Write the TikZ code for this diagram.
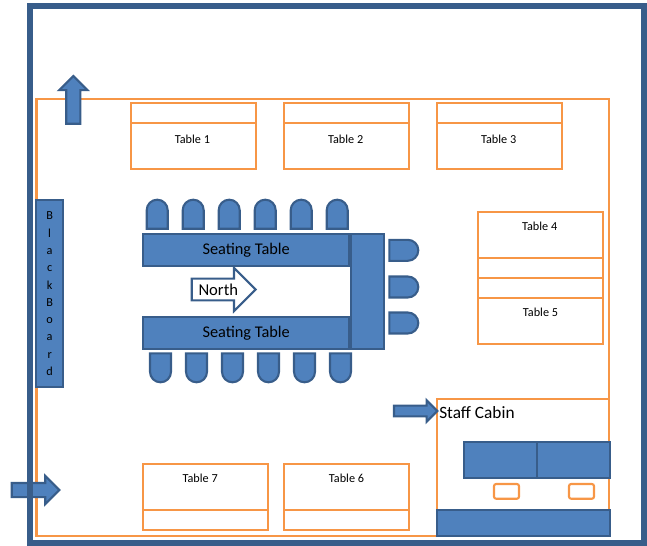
\documentclass[tikz,border=0pt]{standalone}
\usepackage{fontspec}
\setmainfont{Carlito}
\usepackage{xcolor}
\usepackage{tikz}
\usetikzlibrary{shapes,shapes.arrows,positioning}

\definecolor{officeblue}{HTML}{4F81BD}
\definecolor{officeline}{HTML}{385D8A}
\definecolor{officeorange}{HTML}{F79646}

\tikzset{
  bluebox/.style={draw=officeline, fill=officeblue, line width=1.5pt, outer sep=0pt, inner sep=0pt},
  orangebox/.style={draw=officeorange, line width=1.5pt, outer sep=0pt, inner sep=0pt},
  tablecell/.style={orangebox, minimum width=3.125cm},
  tablename/.style={inner sep=0pt, font=\fontsize{8.7}{10}\selectfont},
  seatname/.style={font=\fontsize{11.6}{13}\selectfont},
  doorarrow/.style={single arrow, draw=officeline, fill=officeblue, line width=1.5pt, inner xsep=0pt, outer sep=0pt, single arrow head indent=0pt, anchor=tail},
  chair/.pic={\draw[draw=officeline, fill=officeblue, line width=1.5pt] (-.2625,0) -- (-.2625,.4625) arc[start angle=180, end angle=0, radius=.2625] -- (.2625,0) -- cycle;}
}

\begin{document}
\begin{tikzpicture}
\coordinate(O1) at (0,0);
\useasboundingbox (0,0) rectangle (16.175,-13.625);

\node[below right=2.4675cm and 0.9125cm of O1, orangebox, minimum width=14.3125cm, minimum height=10.9325cm](room) {};
\node[below right=9.975cm and 10.9325cm of O1, orangebox, minimum width=4.2925cm, minimum height=3.425cm](cabin) {};

% top row
\foreach \name/\xa/\lab in {t1/3.2675/Table 1, t2/7.1/Table 2, t3/10.925/Table 3}{
  \node[below right=2.5825cm and \xa cm of O1, tablecell, minimum height=0.5cm](\name a) {};
  \node[below=0cm of \name a, tablecell, minimum height=1.15cm](\name b) {};
  \node[below=0.295cm of \name b.north, tablename, xshift=-0.02cm](\name c) {\lab};
}

% tables 4 and 5
\node[below right=5.3cm and 11.95cm of O1, tablecell, minimum height=1.15cm](t4a) {};
\node[below=0cm of t4a, tablecell, minimum height=0.5cm](t4b) {};
\node[below=0cm of t4b, tablecell, minimum height=0.5cm](t5a) {};
\node[below=0cm of t5a, tablecell, minimum height=1.15cm](t5b) {};
\node[below=0.245cm of t4a.north, tablename, xshift=-0.02cm](t4c) {Table 4};
\node[below=0.245cm of t5b.north, tablename](t5c) {Table 5};

% bottom row
\foreach \name/\xa/\xb/\lab in {t7/3.5675/-0.125/Table 7, t6/7.1/0/Table 6}{
  \node[below right=11.6075cm and \xa cm of O1, tablecell, minimum height=1.15cm](\name a) {};
  \node[below=0cm of \name a, tablecell, minimum height=0.5cm](\name b) {};
  \node[below=0.245cm of \name a.north, tablename, xshift=\xb cm](\name c) {\lab};
}

\node[below right=5.0075cm and 0.9cm of O1, bluebox, minimum width=0.6825cm, minimum height=4.675cm, align=center, font=\fontsize{8.7}{12.3}\selectfont](board) {B\\l\\a\\c\\k\\B\\o\\a\\r\\d};

% seating
\node[below right=5.85cm and 3.5825cm of O1, bluebox, minimum width=5.1425cm, minimum height=0.8cm, seatname](seat1) {Seating Table};
\node[below right=7.925cm and 3.5825cm of O1, bluebox, minimum width=5.1425cm, minimum height=0.8cm, seatname](seat2) {Seating Table};
\node[below right=5.85cm and 8.7825cm of O1, bluebox, minimum width=0.8175cm, minimum height=2.8675cm](seat3) {};

\foreach \i in {0,...,5}{
  \pic at ({3.93+0.9*\i},-5.7175) {chair};
  \pic[rotate=180] at ({4.0125+0.9*\i},-8.8325) {chair};
}
\foreach \ya in {6.2575,7.175,8.075}{
  \pic[rotate=-90] at (9.7325,-\ya) {chair};
}

% arrows
\node[below right=7.2375cm and 4.7925cm of O1, doorarrow, fill=white, inner ysep=0.1cm, minimum height=1.6cm, minimum width=1.0325cm, single arrow head extend=0.27cm, font=\fontsize{11.8}{13}\selectfont](north) {North};
\node[below right=3.0925cm and 1.8325cm of O1, doorarrow, rotate=90, inner ysep=0.15cm, minimum height=1.1925cm, minimum width=0.65cm, single arrow head extend=0.175cm](exitup) {};
\node[below right=12.25cm and 0.2925cm of O1, doorarrow, inner ysep=0.15cm, minimum height=1.19cm, minimum width=0.65cm, single arrow head extend=0.175cm](entry) {};
\node[below right=10.275cm and 9.85cm of O1, doorarrow, inner ysep=0.109cm, minimum height=1.0825cm, minimum width=0.4825cm, single arrow head extend=0.1325cm](staffarrow) {};

% staff cabin
\node[below right=10.3175cm and 10.975cm of O1, anchor=west, inner sep=0pt, font=\fontsize{12.3}{14}\selectfont](staff) {Staff Cabin};
\node[below right=11.0575cm and 11.6cm of O1, bluebox, minimum width=1.825cm, minimum height=0.9cm](desk1) {};
\node[right=0cm of desk1, bluebox, minimum width=1.825cm, minimum height=0.9cm](desk2) {};
\node[below right=12.1cm and 12.35cm of O1, orangebox, rounded corners=1.5pt, minimum width=0.625cm, minimum height=0.3675cm](stool1) {};
\node[below right=12.1cm and 14.225cm of O1, orangebox, rounded corners=1.5pt, minimum width=0.625cm, minimum height=0.3675cm](stool2) {};
\node[below right=12.7575cm and 10.9325cm of O1, bluebox, minimum width=4.3175cm, minimum height=0.65cm](bar) {};

\node[below right=0.15cm and 0.75cm of O1, draw=officeline, line width=3.6pt, outer sep=0pt, minimum width=15.35cm, minimum height=13.425cm](frame) {};
\end{tikzpicture}
\end{document}
